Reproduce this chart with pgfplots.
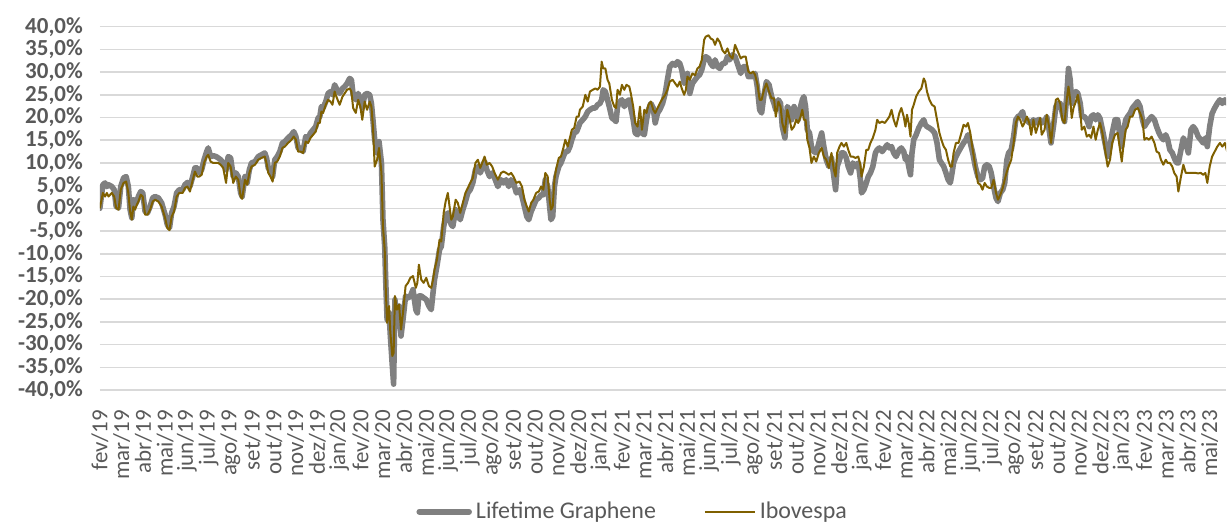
\documentclass[border=0pt]{standalone}
\usepackage{pgfplots}
\usepackage{pgfplotstable}
\pgfplotsset{compat=1.18}
\usepackage{fontspec}
\setmainfont{Carlito}
\definecolor{gridgray}{HTML}{D9D9D9}
\definecolor{labgray}{HTML}{595959}
\definecolor{lifegray}{HTML}{808080}
\definecolor{ibovgold}{HTML}{7F6000}

\pgfplotstableread{
t g o
0.00 0.0 0.0
0.14 5.2 3.4
0.24 5.6 2.6
0.32 4.8 3.4
0.40 5.2 2.6
0.55 4.8 3.4
0.66 4.1 2.6
0.75 0.4 0.1
0.86 0.1 -0.3
0.96 4.8 4.1
1.09 6.7 5.6
1.21 7.0 5.9
1.31 4.8 3.4
1.39 -0.3 -0.7
1.47 -2.1 -2.5
1.54 1.9 0.4
1.62 0.8 -0.3
1.70 1.5 0.8
1.77 2.6 1.5
1.88 3.7 3.0
1.97 3.4 2.6
2.08 -0.7 -1.4
2.19 -1.0 -1.4
2.31 0.4 -0.3
2.43 2.3 1.5
2.54 2.6 1.9
2.69 2.3 1.5
2.84 1.2 0.4
3.00 -1.4 -2.1
3.10 -3.6 -4.3
3.20 -4.3 -4.8
3.30 -1.0 -1.8
3.41 0.4 -0.7
3.53 3.4 2.6
3.65 4.1 3.4
3.81 4.1 3.4
3.91 5.2 4.5
4.02 5.7 4.8
4.14 4.8 3.7
4.27 7.0 6.3
4.37 8.9 8.1
4.48 8.9 7.0
4.57 7.8 7.0
4.68 8.5 7.4
4.79 10.7 10.0
4.91 12.5 11.4
4.98 13.3 11.8
5.09 11.4 10.3
5.21 11.6 10.0
5.34 11.4 10.0
5.44 11.1 10.0
5.55 10.7 9.6
5.67 10.0 8.9
5.80 8.5 5.6
5.90 11.4 10.0
6.01 11.1 9.2
6.13 7.0 5.6
6.25 7.8 7.0
6.36 7.0 6.3
6.47 3.4 2.6
6.54 2.6 2.1
6.67 7.0 6.3
6.77 5.6 5.2
6.87 8.5 7.8
6.97 10.0 9.2
7.13 10.3 9.6
7.28 11.4 10.7
7.43 11.8 11.1
7.58 12.2 11.4
7.66 11.1 9.9
7.74 8.9 7.8
7.84 8.1 7.0
7.94 7.0 5.9
8.04 10.7 10.0
8.15 11.4 10.3
8.27 12.5 11.4
8.39 14.4 13.3
8.50 14.7 13.6
8.65 15.5 14.4
8.81 16.2 15.1
8.91 16.9 15.8
9.01 15.8 15.1
9.11 13.3 12.5
9.22 13.3 12.5
9.34 12.5 12.2
9.46 15.8 14.7
9.57 15.5 14.4
9.68 16.6 15.5
9.80 17.3 16.2
9.92 18.0 16.9
10.03 19.9 18.8
10.11 20.2 18.8
10.18 22.4 21.3
10.26 22.1 21.0
10.38 23.5 22.8
10.49 25.3 23.9
10.60 25.7 23.5
10.69 25.0 22.8
10.79 27.2 25.7
10.90 26.1 24.2
11.02 25.3 22.8
11.15 26.4 24.6
11.25 26.8 25.3
11.36 27.5 26.1
11.48 28.6 26.4
11.56 28.3 25.7
11.64 25.0 22.1
11.76 23.9 21.0
11.87 25.3 23.9
11.97 23.9 22.4
12.06 22.1 19.5
12.17 25.0 23.5
12.28 25.3 21.7
12.40 25.0 23.5
12.48 23.1 22.4
12.55 19.5 18.0
12.63 15.1 9.2
12.74 12.2 10.7
12.83 14.7 13.3
12.94 10.0 7.8
13.01 -2.5 -4.0
13.09 -8.4 -9.1
13.14 -16.4 -17.9
13.20 -24.5 -25.2
13.29 -23.0 -21.5
13.35 -28.1 -27.4
13.44 -34.7 -32.5
13.50 -38.7 -31.8
13.56 -20.1 -19.3
13.65 -24.5 -22.3
13.75 -21.5 -21.2
13.84 -28.1 -26.7
13.93 -24.5 -23.0
14.05 -19.3 -17.1
14.16 -19.7 -16.4
14.27 -19.3 -15.3
14.39 -17.9 -14.9
14.52 -22.3 -17.5
14.59 -23.0 -16.4
14.66 -19.3 -12.4
14.77 -19.3 -15.7
14.88 -19.7 -16.4
15.00 -20.1 -15.3
15.12 -21.5 -17.1
15.23 -22.3 -17.5
15.31 -18.6 -15.7
15.38 -15.7 -13.5
15.49 -12.7 -11.3
15.61 -9.1 -6.9
15.69 -8.4 -7.3
15.80 -4.0 -1.0
15.89 -1.8 1.5
15.99 -1.0 3.4
16.07 -2.5 0.4
16.15 -3.6 -2.5
16.22 -4.0 -1.8
16.35 -0.3 1.9
16.45 -1.4 1.2
16.56 -2.5 -1.0
16.68 -0.3 1.2
16.80 1.5 3.4
16.91 3.4 4.5
17.02 4.1 5.6
17.14 5.6 6.7
17.26 8.5 10.0
17.37 9.2 10.7
17.48 7.8 8.9
17.57 8.9 10.0
17.68 10.3 11.4
17.78 8.5 9.6
17.91 7.0 10.0
18.03 7.8 9.2
18.14 6.7 7.8
18.29 4.8 6.3
18.44 6.3 7.8
18.55 5.6 8.1
18.67 6.3 7.8
18.79 4.8 7.4
18.90 6.3 7.8
19.01 5.6 7.0
19.14 3.4 5.6
19.28 4.1 5.9
19.40 2.6 4.8
19.51 0.4 1.9
19.62 -1.8 0.4
19.71 -2.5 -0.7
19.82 -0.7 1.2
19.92 0.4 1.9
20.05 1.9 3.4
20.17 2.3 3.7
20.28 3.0 4.8
20.38 3.0 4.1
20.47 6.3 7.8
20.58 4.8 7.0
20.67 0.4 1.9
20.73 -2.5 -0.3
20.81 -1.8 0.4
20.89 4.8 6.3
20.96 7.0 8.5
21.09 9.2 11.1
21.19 10.0 11.4
21.30 11.4 13.3
21.39 12.5 15.1
21.50 12.5 13.6
21.60 13.6 15.5
21.69 15.1 17.3
21.80 16.6 17.7
21.91 16.9 20.2
22.00 18.0 20.2
22.06 18.8 21.7
22.19 19.5 22.4
22.31 20.2 25.0
22.42 21.3 23.5
22.52 21.7 25.7
22.65 22.1 26.1
22.77 22.1 26.4
22.87 22.8 26.1
22.98 23.1 26.8
23.06 23.9 32.3
23.13 26.1 30.8
23.23 25.7 30.8
23.33 23.9 28.3
23.41 22.4 27.5
23.53 19.9 23.9
23.64 19.5 22.4
23.72 19.1 22.1
23.79 22.4 26.1
23.90 23.5 25.0
23.99 23.9 27.2
24.10 22.4 26.1
24.20 23.5 27.2
24.33 23.9 26.8
24.40 22.1 25.3
24.51 19.5 22.4
24.60 16.6 18.8
24.71 16.2 18.0
24.82 18.8 22.4
24.91 16.6 17.3
25.02 16.2 21.7
25.12 19.5 21.0
25.21 21.7 22.8
25.32 23.1 23.5
25.43 22.1 21.7
25.52 18.8 21.0
25.63 21.0 22.1
25.73 21.7 23.1
25.86 23.1 24.2
25.98 25.3 25.0
26.08 28.3 26.1
26.19 31.2 27.9
26.32 31.9 28.3
26.44 31.5 27.5
26.54 32.3 26.8
26.65 31.9 27.9
26.74 30.5 26.4
26.85 27.5 25.0
26.93 28.3 26.1
27.00 29.7 29.0
27.11 25.3 28.3
27.23 27.5 29.7
27.35 28.3 29.3
27.46 29.0 30.8
27.56 29.4 31.2
27.66 30.5 32.7
27.77 32.7 37.1
27.84 33.4 37.8
27.97 33.0 38.1
28.07 31.9 37.4
28.18 31.2 37.1
28.27 32.7 36.0
28.38 31.2 37.4
28.49 30.8 36.6
28.61 31.9 34.8
28.73 31.9 34.1
28.84 33.4 35.2
28.94 32.7 33.7
29.07 33.8 33.0
29.19 33.4 36.0
29.45 29.7 33.0
29.56 31.2 33.4
29.68 31.2 33.4
29.80 29.0 30.1
29.91 29.0 29.7
30.02 29.0 30.1
30.11 29.7 29.4
30.21 26.8 27.5
30.32 21.7 23.9
30.41 21.0 23.9
30.52 25.0 26.1
30.63 27.9 27.5
30.75 27.2 25.7
30.87 24.6 24.2
30.98 23.1 24.2
31.06 21.7 20.2
31.18 23.9 23.5
31.28 23.1 22.4
31.36 18.0 18.8
31.48 15.5 16.6
31.59 22.4 21.7
31.70 21.7 19.5
31.79 19.5 17.3
31.90 22.4 18.0
32.00 21.0 19.5
32.09 19.5 18.8
32.20 22.4 20.2
32.28 23.9 21.7
32.35 24.6 19.5
32.43 22.4 19.5
32.51 17.3 15.1
32.61 16.6 13.3
32.70 13.6 10.0
32.81 12.5 11.4
32.92 12.2 10.3
33.04 14.4 12.2
33.17 16.6 13.3
33.27 13.6 11.4
33.38 10.7 10.7
33.50 9.2 8.9
33.62 11.1 12.2
33.73 7.0 8.5
33.81 4.1 7.0
33.88 9.2 12.2
33.99 10.7 13.6
34.08 12.2 14.4
34.19 12.2 13.6
34.30 11.1 14.4
34.39 9.2 12.9
34.50 7.8 11.4
34.60 10.0 11.4
34.72 9.2 11.1
34.85 10.0 11.4
34.95 6.3 9.6
35.00 3.4 7.0
35.11 4.1 9.2
35.22 5.6 12.9
35.31 7.0 12.9
35.41 7.8 14.4
35.52 9.2 15.5
35.64 12.2 17.3
35.72 12.9 19.5
35.82 13.3 18.8
35.95 12.5 19.1
36.07 13.3 18.8
36.18 14.0 19.5
36.28 13.3 20.2
36.38 13.6 21.7
36.48 12.2 19.5
36.59 11.4 18.0
36.74 12.9 21.0
36.83 13.3 22.1
36.94 12.5 20.2
37.02 10.7 18.0
37.09 11.4 20.6
37.17 9.2 18.8
37.25 7.4 15.8
37.32 12.2 21.7
37.40 15.1 22.8
37.51 16.2 24.6
37.63 17.7 25.7
37.75 18.8 26.4
37.86 19.5 28.6
37.93 18.4 27.9
38.01 18.0 25.7
38.12 17.7 23.9
38.24 17.3 22.8
38.36 16.6 22.4
38.47 14.4 19.5
38.58 10.7 16.6
38.67 10.0 15.1
38.78 9.2 13.6
38.88 7.8 12.9
38.98 6.3 10.7
39.08 5.6 9.2
39.16 7.8 9.2
39.23 10.0 12.2
39.34 11.4 14.4
39.46 12.5 14.4
39.59 13.6 16.6
39.69 14.4 18.4
39.80 15.1 18.0
39.89 16.2 18.8
40.00 14.4 16.6
40.11 12.2 12.9
40.23 9.2 9.2
40.35 7.0 5.6
40.46 6.3 5.2
40.56 6.6 4.1
40.66 9.2 5.6
40.76 9.6 4.8
40.87 9.2 4.5
40.96 7.8 4.5
41.07 4.8 6.3
41.18 2.3 3.4
41.27 1.5 1.9
41.38 3.4 3.0
41.49 4.1 4.5
41.58 5.6 6.3
41.68 10.7 8.1
41.76 12.2 9.2
41.88 12.9 10.7
41.99 15.8 14.4
42.09 19.5 18.8
42.19 20.2 20.2
42.29 20.5 19.5
42.40 21.3 18.0
42.49 19.5 18.8
42.60 19.5 20.2
42.71 18.8 18.8
42.80 18.8 16.2
42.90 19.5 19.5
43.01 18.8 16.6
43.10 19.5 18.0
43.21 19.5 19.9
43.28 18.8 16.2
43.41 19.1 17.3
43.51 20.2 20.6
43.62 17.3 18.0
43.71 14.4 14.4
43.82 18.0 19.5
43.93 22.4 23.9
44.02 23.1 24.2
44.13 23.1 23.1
44.23 20.9 19.5
44.33 19.1 18.8
44.43 24.6 23.9
44.51 30.8 26.8
44.59 28.3 23.9
44.66 23.1 19.9
44.74 25.3 22.1
44.85 25.7 23.5
44.94 25.3 25.0
45.05 23.1 21.7
45.12 20.2 17.3
45.24 20.2 18.0
45.35 19.5 15.8
45.46 18.0 16.2
45.55 20.2 15.5
45.66 20.6 18.0
45.76 19.5 15.1
45.86 20.6 17.3
45.96 19.8 18.8
46.07 17.3 16.6
46.19 14.4 12.9
46.31 11.4 9.2
46.42 13.6 10.7
46.52 16.6 14.4
46.65 19.5 16.2
46.77 19.5 16.6
46.88 15.8 12.9
46.96 13.6 10.3
47.03 16.6 13.6
47.14 19.5 17.3
47.23 20.2 18.0
47.34 20.9 20.2
47.45 22.1 20.2
47.57 22.8 21.7
47.69 23.5 22.1
47.80 22.4 21.0
47.91 19.5 19.5
48.00 18.0 15.1
48.10 18.8 15.5
48.21 19.5 15.1
48.33 20.2 15.8
48.46 19.5 14.4
48.56 18.0 12.5
48.67 16.6 12.2
48.76 15.8 10.7
48.87 15.1 9.6
48.98 16.2 10.7
49.07 15.1 10.0
49.17 12.9 10.0
49.28 12.2 9.2
49.37 11.1 7.8
49.48 10.0 7.0
49.56 10.0 3.7
49.68 12.9 7.0
49.79 15.5 9.6
49.90 14.4 7.8
50.02 12.2 7.8
50.14 17.3 7.8
50.24 18.0 7.8
50.35 17.3 7.8
50.47 15.8 7.7
50.59 15.1 7.8
50.70 14.4 7.4
50.80 15.5 7.8
50.89 13.6 5.6
51.00 18.0 9.2
51.11 20.9 11.4
51.23 22.1 12.5
51.35 23.1 13.6
51.47 23.9 14.4
51.58 23.1 13.6
51.70 23.9 14.4
51.82 23.1 12.2
}\datatable

\begin{document}
\begin{tikzpicture}
\begin{axis}[
  at={(0,0)}, anchor=south west,
  scale only axis,
  width=564pt, height=182pt,
  xmin=0, xmax=51.75,
  ymin=-40, ymax=40,
  axis line style={draw=none},
  major tick length=0pt,
  ymajorgrids,
  grid style={gridgray, line width=0.8pt},
  ytick={-40,-35,...,40},
  yticklabels={{-40,0\%},{-35,0\%},{-30,0\%},{-25,0\%},{-20,0\%},{-15,0\%},{-10,0\%},{-5,0\%},{0,0\%},{5,0\%},{10,0\%},{15,0\%},{20,0\%},{25,0\%},{30,0\%},{35,0\%},{40,0\%}},
  yticklabel style={font=\bfseries\fontsize{11.5}{13}\selectfont, text=labgray, xshift=-5pt},
  xtick={0,...,51},
  xticklabels={fev/19,mar/19,abr/19,mai/19,jun/19,jul/19,ago/19,set/19,out/19,nov/19,dez/19,
    jan/20,fev/20,mar/20,abr/20,mai/20,jun/20,jul/20,ago/20,set/20,out/20,nov/20,dez/20,
    jan/21,fev/21,mar/21,abr/21,mai/21,jun/21,jul/21,ago/21,set/21,out/21,nov/21,dez/21,
    jan/22,fev/22,mar/22,abr/22,mai/22,jun/22,jul/22,ago/22,set/22,out/22,nov/22,dez/22,
    jan/23,fev/23,mar/23,abr/23,mai/23},
  xticklabel style={font=\fontsize{11.5}{13}\selectfont, text=labgray, yshift=-6.5pt, rotate=90, anchor=east},
  legend columns=2,
  legend style={draw=none, fill=none, at={(0.474,-0.335)}, anchor=center,
    font=\fontsize{12}{14}\selectfont, text=labgray,
    /tikz/every even column/.append style={column sep=22pt}},
  legend image code/.code={\draw[#1] (0pt,0pt) -- (25pt,0pt);},
]
\addplot[lifegray, line width=2.8pt, line join=round, line cap=round] table[x=t, y=g] {\datatable};
\addlegendentry{Lifetime Graphene}
\addplot[ibovgold, line width=1pt, line join=round] table[x=t, y=o] {\datatable};
\addlegendentry{Ibovespa}
\end{axis}
\pgfresetboundingbox
\path (-50pt,-68.65pt) rectangle (565pt,195.35pt);
\end{tikzpicture}
\end{document}
